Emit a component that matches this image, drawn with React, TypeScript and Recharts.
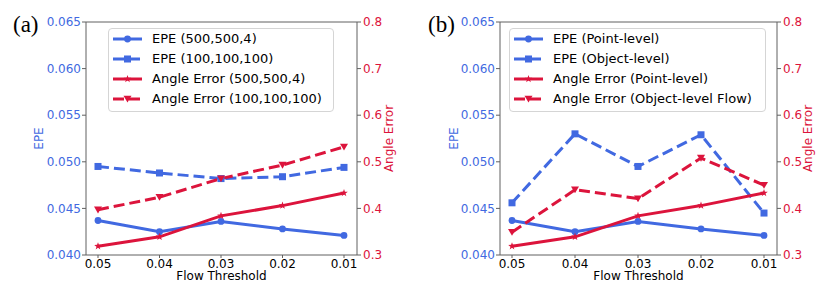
import React from 'react';
import { LineChart, Line, XAxis, YAxis, Legend, ReferenceLine, Label } from 'recharts';

const thresholds = ['0.05', '0.04', '0.03', '0.02', '0.01'];
const epeTicks = [0.04, 0.045, 0.05, 0.055, 0.06, 0.065];
const angleTicks = [0.3, 0.4, 0.5, 0.6, 0.7, 0.8];

// Panel (a)
const epe500 = [0.0437, 0.0425, 0.0436, 0.0428, 0.0421];
const epe100 = [0.0495, 0.0488, 0.0482, 0.0484, 0.0494];
const ang500 = [0.319, 0.339, 0.384, 0.406, 0.433];
const ang100 = [0.397, 0.424, 0.464, 0.493, 0.532];
const namesA = ['EPE (500,500,4)', 'EPE (100,100,100)', 'Angle Error (500,500,4)', 'Angle Error (100,100,100)'];

// Panel (b)
const epePoint = [0.0437, 0.0425, 0.0436, 0.0428, 0.0421];
const epeObject = [0.0456, 0.053, 0.0495, 0.0529, 0.0445];
const angPoint = [0.319, 0.339, 0.384, 0.406, 0.433];
const angObject = [0.349, 0.44, 0.421, 0.508, 0.45];
const namesB = ['EPE (Point-level)', 'EPE (Object-level)', 'Angle Error (Point-level)', 'Angle Error (Object-level Flow)'];

const BLUE = '#4169E1';
const RED = '#DC143C';
const FRAME = '#606060';
const FONT = "'DejaVu Sans', sans-serif";

const shapes = ['circle', 'square', 'star', 'tri'];
const colors = [BLUE, BLUE, RED, RED];
const dashed = [false, true, false, true];
const axes = ['l', 'l', 'r', 'r'];

function buildRows(s1: number[], s2: number[], s3: number[], s4: number[]) {
  return thresholds.map((x, i) => ({ x, s1: s1[i], s2: s2[i], s3: s3[i], s4: s4[i] }));
}
const dataA = buildRows(epe500, epe100, ang500, ang100);
const dataB = buildRows(epePoint, epeObject, angPoint, angObject);

function Marker({ shape, cx, cy, color }: { shape: string; cx: number; cy: number; color: string }) {
  if (cx == null || cy == null) return null;
  if (shape === 'circle') return <circle cx={cx} cy={cy} r={3.4} fill={color} />;
  if (shape === 'square') return <rect x={cx - 3.5} y={cy - 3.5} width={7} height={7} fill={color} />;
  if (shape === 'tri')
    return <polygon points={`${cx - 4},${cy - 3.2} ${cx + 4},${cy - 3.2} ${cx},${cy + 3.6}`} fill={color} />;
  const pts: string[] = [];
  for (let k = 0; k < 10; k++) {
    const r = k % 2 === 0 ? 4 : 1.6;
    const a = -Math.PI / 2 + (k * Math.PI) / 5;
    pts.push(`${cx + r * Math.cos(a)},${cy + r * Math.sin(a)}`);
  }
  return <polygon points={pts.join(' ')} fill={color} />;
}

function LegendBox({ names, width }: { names: string[]; width: number }) {
  return (
    <div
      style={{
        width,
        height: 84,
        boxSizing: 'border-box',
        border: '1px solid #d5d5d5',
        borderRadius: 4,
        background: 'rgba(255,255,255,0.85)',
        paddingTop: 0,
        fontFamily: FONT,
        fontSize: 13,
        color: '#000',
      }}
    >
      {names.map((n, i) => (
        <div key={n} style={{ display: 'flex', alignItems: 'center', height: 20 }}>
          <svg width={29} height={20} style={{ marginLeft: 4, marginRight: 10, flex: 'none' }}>
            <line
              x1={0}
              x2={29}
              y1={10}
              y2={10}
              stroke={colors[i]}
              strokeWidth={3}
              strokeDasharray={dashed[i] ? '11 5' : undefined}
            />
            <Marker shape={shapes[i]} cx={14.5} cy={10} color={colors[i]} />
          </svg>
          <span style={{ whiteSpace: 'nowrap', lineHeight: '20px' }}>{n}</span>
        </div>
      ))}
    </div>
  );
}

type PanelProps = {
  left: number;
  data: any[];
  names: string[];
  tag: string;
  leftW: number;
  rightW: number;
  dxL: number;
  dxR: number;
  legendLeft: number;
  legendW: number;
};

function Panel({ left, data, names, tag, leftW, rightW, dxL, dxR, legendLeft, legendW }: PanelProps) {
  return (
    <div style={{ position: 'absolute', left, top: 0, width: 415, height: 286, fontFamily: FONT }}>
      <LineChart width={415} height={286} data={data} margin={{ top: 22, right: 0, bottom: 0, left: 0 }}>
        <XAxis
          dataKey="x"
          height={31}
          padding={{ left: 12, right: 13 }}
          interval={0}
          tickSize={3}
          tickMargin={1}
          tick={{ fill: '#000', fontSize: 12 }}
          axisLine={{ stroke: FRAME }}
          tickLine={{ stroke: FRAME }}
        >
          <Label value="Flow Threshold" position="insideBottom" offset={6} fill="#000" fontSize={12} />
        </XAxis>
        <YAxis
          yAxisId="l"
          orientation="left"
          type="number"
          width={leftW}
          domain={[0.04, 0.065]}
          ticks={epeTicks}
          allowDataOverflow
          tickFormatter={(v: number) => v.toFixed(3)}
          tickSize={4}
          tickMargin={1}
          tick={{ fill: BLUE, fontSize: 12 }}
          axisLine={{ stroke: FRAME }}
          tickLine={{ stroke: FRAME }}
        >
          <Label value="EPE" angle={-90} position="center" dx={dxL} fill={BLUE} fontSize={12} />
        </YAxis>
        <YAxis
          yAxisId="r"
          orientation="right"
          type="number"
          width={rightW}
          domain={[0.3, 0.8]}
          ticks={angleTicks}
          allowDataOverflow
          tickFormatter={(v: number) => v.toFixed(1)}
          tickSize={4}
          tickMargin={2}
          tick={{ fill: RED, fontSize: 12 }}
          axisLine={{ stroke: FRAME }}
          tickLine={{ stroke: FRAME }}
        >
          <Label value="Angle Error" angle={-90} position="center" dx={dxR} fill={RED} fontSize={12} />
        </YAxis>
        <ReferenceLine yAxisId="l" y={0.065} stroke={FRAME} strokeWidth={1} />
        {['s1', 's2', 's3', 's4'].map((k, i) => (
          <Line
            key={k}
            yAxisId={axes[i]}
            dataKey={k}
            name={names[i]}
            stroke={colors[i]}
            strokeWidth={3}
            strokeDasharray={dashed[i] ? '11 5' : undefined}
            isAnimationActive={false}
            dot={(p: any) => <Marker key={`${k}-${p.index}`} shape={shapes[i]} cx={p.cx} cy={p.cy} color={colors[i]} />}
            activeDot={false}
          />
        ))}
        <Legend
          layout="vertical"
          align="center"
          verticalAlign="middle"
          content={() => <LegendBox names={names} width={legendW} />}
          wrapperStyle={{ left: legendLeft, top: 28, width: legendW, height: 84, right: 'auto', bottom: 'auto' }}
        />
      </LineChart>
      <svg width={60} height={40} style={{ position: 'absolute', left: 0, top: 0 }}>
        <text x={13} y={32} fontFamily="'Liberation Serif', serif" fontSize={23} fill="#000">
          {tag}
        </text>
      </svg>
    </div>
  );
}

export default function App() {
  return (
    <div style={{ position: 'absolute', left: 0, top: 0, width: 830, height: 286, background: '#fff' }}>
      <Panel left={0} data={dataA} names={namesA} tag="(a)" leftW={86} rightW={58} dxL={-4} dxR={3} legendLeft={108} legendW={226} />
      <Panel left={415} data={dataB} names={namesB} tag="(b)" leftW={85} rightW={53} dxL={-4} dxR={4} legendLeft={94} legendW={257} />
    </div>
  );
}
